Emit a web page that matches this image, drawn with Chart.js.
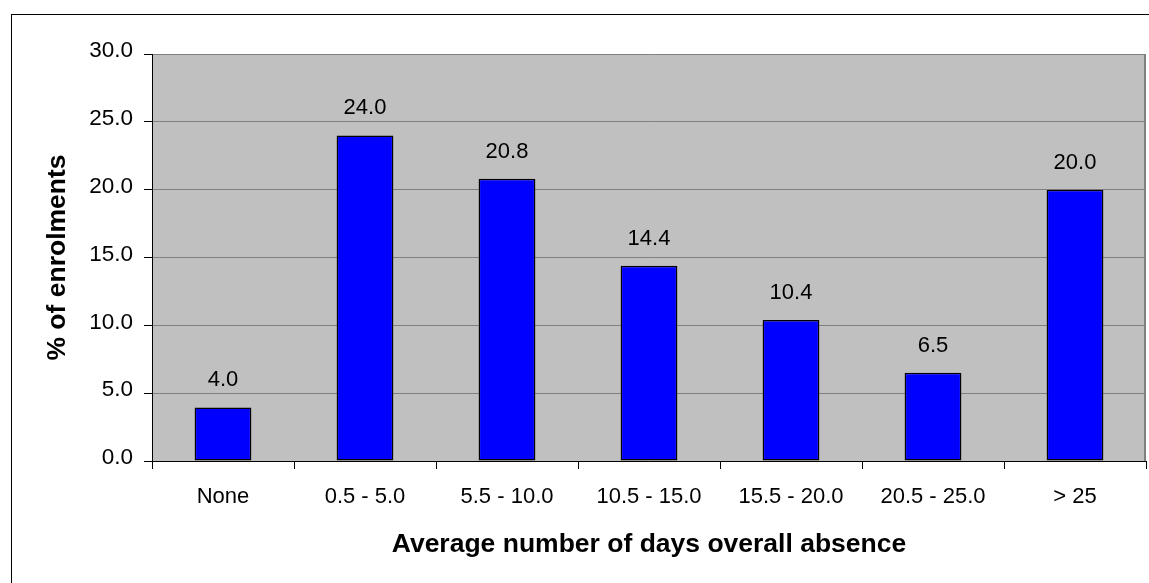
<!DOCTYPE html>
<html>
<head>
<meta charset="utf-8">
<script src="https://cdn.jsdelivr.net/npm/chart.js@4"></script>
<style>
  html, body { margin: 0; padding: 0; background: #fff; }
  canvas { display: block; }
</style>
</head>
<body>
<canvas id="absenceChart" width="1149" height="583"></canvas>
<script>
// data
const categories = ['None', '0.5 - 5.0', '5.5 - 10.0', '10.5 - 15.0', '15.5 - 20.0', '20.5 - 25.0', '> 25'];
const enrolmentPct = [3.95, 24.0, 20.8, 14.4, 10.4, 6.5, 20.0];
const yTicks = [0, 5, 10, 15, 20, 25, 30];

const FONT = 'Liberation Sans, Arial, sans-serif';

// grey plot area + outer frame
const backdrop = {
    id: 'backdrop',
    beforeDraw(chart) {
        const ctx = chart.ctx;
        const a = chart.chartArea;
        ctx.save();
        ctx.fillStyle = '#fff';
        ctx.fillRect(0, 0, chart.width, chart.height);
        ctx.strokeStyle = '#000';
        ctx.lineWidth = 1;
        ctx.strokeRect(11.5, 14.5, 1300, 1300);
        ctx.fillStyle = '#c0c0c0';
        ctx.fillRect(a.left, a.top, a.right - a.left, a.bottom - a.top);
        ctx.strokeStyle = '#808080';
        ctx.lineWidth = 2;
        ctx.beginPath();
        ctx.moveTo(a.right - 1, a.top);
        ctx.lineTo(a.right - 1, a.bottom);
        ctx.stroke();
        ctx.restore();
    }
};

// value labels above bars
const valueLabels = {
    id: 'valueLabels',
    afterDatasetsDraw(chart) {
        const ctx = chart.ctx;
        const meta = chart.getDatasetMeta(0);
        ctx.save();
        ctx.font = '22px ' + FONT;
        ctx.fillStyle = '#000';
        ctx.textAlign = 'center';
        ctx.textBaseline = 'alphabetic';
        meta.data.forEach((bar, i) => {
            ctx.fillText(enrolmentPct[i].toFixed(1), bar.x, bar.y - 21);
        });
        ctx.restore();
    }
};

new Chart(document.getElementById('absenceChart').getContext('2d'), {
    type: 'bar',
    data: {
        labels: categories,
        datasets: [{
            data: enrolmentPct,
            backgroundColor: '#0000ff',
            borderColor: '#000',
            borderWidth: 1.5,
            borderSkipped: false,
            categoryPercentage: 0.4,
            barPercentage: 1
        }]
    },
    options: {
        responsive: false,
        animation: false,
        layout: { padding: { left: 0, right: 3, top: 54, bottom: 0 } },
        plugins: {
            legend: { display: false },
            tooltip: { enabled: false }
        },
        scales: {
            x: {
                offset: true,
                grid: {
                    offset: true,
                    drawOnChartArea: false,
                    tickColor: '#000',
                    tickLength: 8
                },
                border: { color: '#000' },
                ticks: {
                    color: '#000',
                    font: { family: FONT, size: 22 },
                    padding: 15,
                    maxRotation: 0
                },
                title: {
                    display: true,
                    text: 'Average number of days overall absence',
                    color: '#000',
                    font: { family: FONT, size: 26.5, weight: 'bold' },
                    padding: { top: 0, bottom: 22.6 }
                },
                afterFit(scale) { scale.height = 122; }
            },
            y: {
                min: 0,
                max: 30,
                afterBuildTicks(scale) {
                    scale.ticks = yTicks.map(v => ({ value: v }));
                },
                grid: {
                    color: '#808080',
                    tickColor: '#000',
                    tickLength: 8
                },
                border: { color: '#000' },
                ticks: {
                    color: '#000',
                    font: { family: FONT, size: 22.5 },
                    padding: 11,
                    labelOffset: -3,
                    callback: v => Number(v).toFixed(1)
                },
                title: {
                    display: true,
                    text: '% of enrolments',
                    color: '#000',
                    font: { family: FONT, size: 26.5, weight: 'bold' },
                    padding: { top: 41.7, bottom: 0 }
                },
                afterFit(scale) { scale.width = 152; }
            }
        }
    },
    plugins: [backdrop, valueLabels]
});
</script>
</body>
</html>
